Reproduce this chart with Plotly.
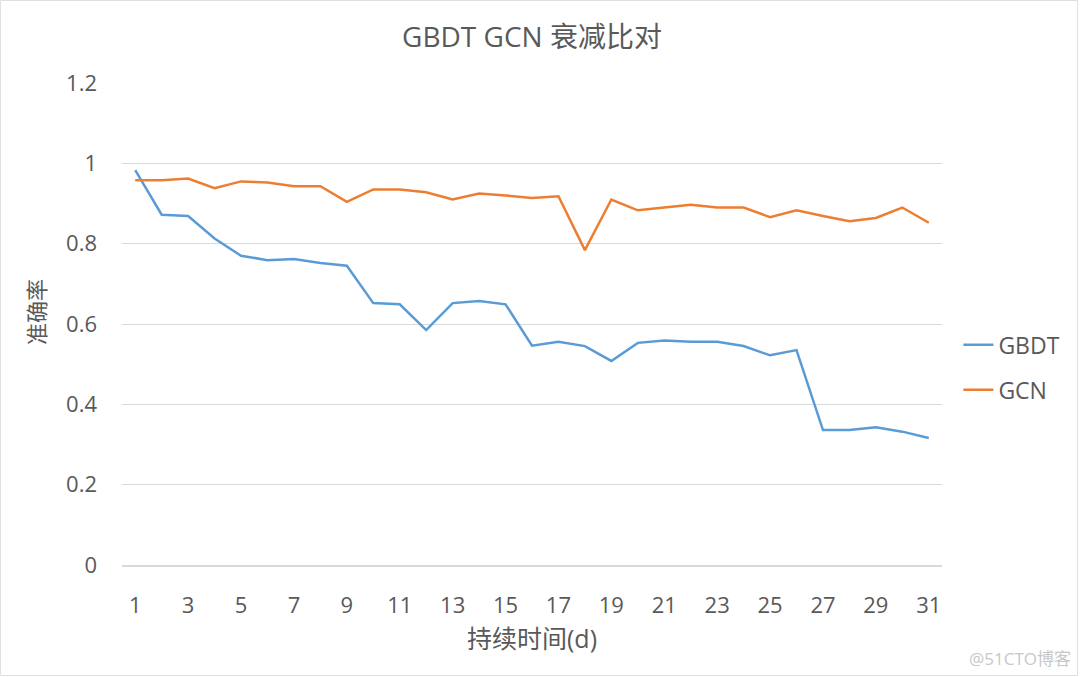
import plotly.graph_objects as go

days = list(range(1, 32))
gbdt = [0.983, 0.872, 0.869, 0.813, 0.770, 0.759, 0.762, 0.752, 0.745, 0.652,
        0.649, 0.585, 0.652, 0.657, 0.649, 0.546, 0.556, 0.545, 0.508, 0.553,
        0.559, 0.556, 0.556, 0.545, 0.522, 0.535, 0.336, 0.336, 0.343, 0.332, 0.316]
gcn = [0.958, 0.958, 0.962, 0.938, 0.955, 0.952, 0.943, 0.943, 0.904, 0.935,
       0.935, 0.928, 0.910, 0.925, 0.920, 0.914, 0.918, 0.784, 0.910, 0.883,
       0.890, 0.897, 0.890, 0.890, 0.866, 0.883, 0.869, 0.856, 0.864, 0.890, 0.852]
x_ticks = list(range(1, 32, 2))
y_ticks = [0, 0.2, 0.4, 0.6, 0.8, 1, 1.2]
y_tick_text = ["0", "0.2", "0.4", "0.6", "0.8", "1", "1.2"]

FONT = "Open Sans, Noto Sans CJK SC, sans-serif"
GRAY = "#595959"

fig = go.Figure()
fig.add_trace(go.Scatter(x=days, y=gbdt, mode="lines", name="GBDT", legendgroup="a",
                         line=dict(color="#5B9BD5", width=2.5)))
fig.add_trace(go.Scatter(x=days, y=gcn, mode="lines", name="GCN", legendgroup="b",
                         line=dict(color="#ED7D31", width=2.5)))

fig.update_layout(
    width=1080, height=677,
    margin=dict(l=122, r=138, t=83, b=112),
    paper_bgcolor="white", plot_bgcolor="white",
    font=dict(family=FONT, color=GRAY),
    title=dict(text="GBDT GCN 衰减比对", x=0.5, xref="paper", y=0.945,
               xanchor="center", yanchor="middle",
               font=dict(size=28, color=GRAY, family=FONT)),
    xaxis=dict(range=[0.5, 31.5], tickmode="array", tickvals=x_ticks,
               ticktext=[str(v) for v in x_ticks], showgrid=False,
               showline=True, linecolor="#D9D9D9", linewidth=1.5,
               ticks="", ticklabelstandoff=20, tickfont=dict(size=22, color=GRAY),
               title=dict(text="持续时间(d)", font=dict(size=25, color=GRAY), standoff=12),
               zeroline=False, fixedrange=True),
    yaxis=dict(range=[0, 1.2], tickmode="array", tickvals=y_ticks,
               ticktext=y_tick_text, showgrid=True, gridcolor="#D9D9D9",
               gridwidth=1, zeroline=False, showline=False, ticks="",
               ticklabelstandoff=24,
               tickfont=dict(size=22, color=GRAY),
               fixedrange=True),
    legend=dict(x=1.02, xanchor="left", y=0.41, yanchor="middle",
                font=dict(size=23, color=GRAY), itemwidth=30,
                tracegroupgap=12, bgcolor="rgba(0,0,0,0)"),
    showlegend=True,
)

fig.add_annotation(text="准确率", xref="paper", yref="paper",
                   x=(36 - 122) / 820, y=(565 - 312) / 482, textangle=-90,
                   xanchor="center", yanchor="middle", showarrow=False,
                   font=dict(size=22, color=GRAY, family=FONT))

fig.add_annotation(text="@51CTO博客", xref="paper", yref="paper",
                   x=1.16, y=-0.193, xanchor="right", yanchor="middle",
                   showarrow=False, font=dict(size=17, color="#C8C8C8", family=FONT))

fig.add_shape(type="rect", xref="paper", yref="paper",
              x0=-121.5 / 820, x1=(1077.5 - 122) / 820,
              y0=(565 - 675.5) / 482, y1=(565 - 0.5) / 482,
              line=dict(color="#E0E0E0", width=1), fillcolor="rgba(0,0,0,0)",
              layer="below")

fig.write_html("out.html")
